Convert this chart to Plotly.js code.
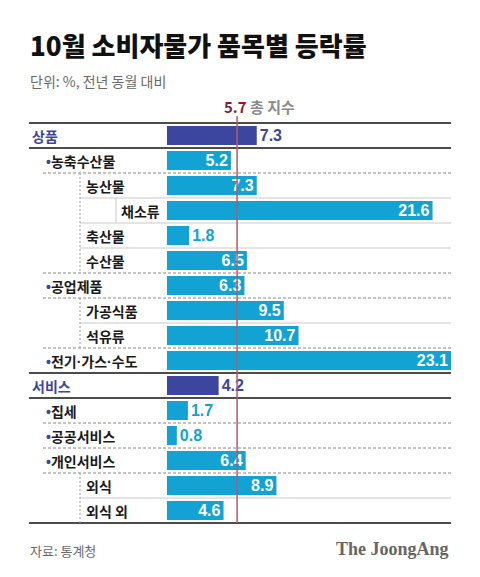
<!DOCTYPE html>
<html>
<head>
<meta charset="utf-8">
<script src="https://cdn.plot.ly/plotly-3.0.1.min.js"></script>
<style>
  html, body { margin: 0; padding: 0; background: #fff; }
  #chart { width: 480px; height: 577px; }
</style>
</head>
<body>
<div id="chart"></div>
<script>
// ---- data ----
const categories = ['상품','농축수산물','농산물','채소류','축산물','수산물','공업제품','가공식품','석유류','전기·가스·수도','서비스','집세','공공서비스','개인서비스','외식','외식 외'];
const values = [7.3, 5.2, 7.3, 21.6, 1.8, 6.5, 6.3, 9.5, 10.7, 23.1, 4.2, 1.7, 0.8, 6.4, 8.9, 4.6];
const levels = [0, 1, 2, 3, 2, 2, 1, 2, 2, 1, 0, 1, 1, 1, 2, 2];
const totalIndex = 5.7;
const titleText = '10월 소비자물가 품목별 등락률';
const unitText = '단위: %, 전년 동월 대비';
const totalLabel = '총 지수';
const sourceText = '자료: 통계청';
const brandText = 'The JoongAng';

// ---- styles ----
const NAVY = '#3c469e';
const CYAN = '#12a3d4';
const RED = '#b55a66';
const KR = '"Noto Sans CJK KR", "Noto Sans", sans-serif';
const NUM = '"Liberation Sans", Arial, sans-serif';

// plot geometry (pixels)
const L = 29, R = 451, T = 123, B = 523, W = 480, H = 577;
const X0PX = 167;                         // pixel of value 0
const XMAX = 23.1;
const scale = (R - X0PX) / XMAX;
const XMIN = -(X0PX - L) / scale;
const px2x = p => (p - L) / (R - L);      // pixel -> paper x
const py2y = p => (B - p) / (B - T);      // pixel -> paper y
const n = categories.length;
const rowH = (B - T) / n;

const idx = categories.map((_, i) => i);
const mainIdx = idx.filter(i => levels[i] === 0);
const subIdx = idx.filter(i => levels[i] !== 0);

const traces = [
  {
    type: 'bar', orientation: 'h',
    y: mainIdx, x: mainIdx.map(i => values[i]),
    text: mainIdx.map(i => values[i].toFixed(1)),
    textposition: 'outside',
    outsidetextfont: { family: NUM, size: 16, color: NAVY, weight: 'bold' },
    marker: { color: NAVY }, width: 0.76, cliponaxis: false, constraintext: 'none',
    hoverinfo: 'skip'
  },
  {
    type: 'bar', orientation: 'h',
    y: subIdx, x: subIdx.map(i => values[i]),
    text: subIdx.map(i => values[i].toFixed(1)),
    textposition: subIdx.map(i => values[i] >= 3 ? 'inside' : 'outside'),
    insidetextanchor: 'end',
    insidetextfont: { family: NUM, size: 16, color: '#ffffff', weight: 'bold' },
    outsidetextfont: { family: NUM, size: 16, color: CYAN, weight: 'bold' },
    marker: { color: CYAN }, width: 0.76, cliponaxis: false, constraintext: 'none',
    hoverinfo: 'skip'
  }
];

// ---- shapes ----
const shapes = [];
for (let k = 0; k <= n; k++) {
  const yp = py2y(T + rowH * k);
  let kind;
  if (k === 0 || k === n) kind = 'black';
  else {
    const a = levels[k - 1], b = levels[k];
    if (a === 0 || b === 0) kind = 'black';
    else if (a >= 2 && b >= 2) kind = 'gray';
    else kind = 'dash';
  }
  if (kind === 'black') {
    shapes.push({ type: 'line', xref: 'paper', yref: 'paper', x0: 0, x1: 1, y0: yp, y1: yp,
      line: { color: '#111', width: 1.4 }, layer: 'below' });
  } else if (kind === 'gray') {
    shapes.push({ type: 'line', xref: 'paper', yref: 'paper', x0: px2x(80), x1: 1, y0: yp, y1: yp,
      line: { color: '#c9c9c9', width: 1 }, layer: 'below' });
  } else {
    shapes.push({ type: 'line', xref: 'paper', yref: 'paper', x0: px2x(43), x1: 1, y0: yp, y1: yp,
      line: { color: '#888', width: 1, dash: '3px,2px' }, layer: 'below' });
  }
}
// vertical dotted line for level>=2 groups, solid for level 3
let i = 0;
while (i < n) {
  if (levels[i] >= 2) {
    let j = i;
    while (j + 1 < n && levels[j + 1] >= 2) j++;
    shapes.push({ type: 'line', xref: 'paper', yref: 'paper', x0: px2x(80), x1: px2x(80),
      y0: py2y(T + rowH * i), y1: py2y(T + rowH * (j + 1)),
      line: { color: '#999', width: 1, dash: '2px,2px' }, layer: 'below' });
    i = j + 1;
  } else i++;
}
idx.filter(k => levels[k] === 3).forEach(k => {
  shapes.push({ type: 'line', xref: 'paper', yref: 'paper', x0: px2x(116), x1: px2x(116),
    y0: py2y(T + rowH * k), y1: py2y(T + rowH * (k + 1)),
    line: { color: '#c9c9c9', width: 1 }, layer: 'below' });
});
// total index reference line
shapes.push({ type: 'line', xref: 'x', yref: 'paper', x0: totalIndex, x1: totalIndex,
  y0: 0, y1: py2y(116), line: { color: RED, width: 1.5 }, layer: 'above' });

// ---- annotations ----
const annotations = [];
const levelX = [30, 44, 84, 119];
const tightDots = s => s.split('·').join('<span style="font-family:Liberation Sans">·</span>');
categories.forEach((c, k) => {
  const lv = levels[k];
  let text = tightDots(c);
  let font = { family: KR, size: 14, color: '#1a1a1a', weight: 'bold' };
  if (lv === 0) font = { family: KR, size: 14, color: NAVY, weight: 'bold' };
  if (lv === 1) text = '<span style="color:' + NAVY + ';font-family:Liberation Sans">•</span>' + text;
  annotations.push({ xref: 'paper', yref: 'y', x: px2x(levelX[lv]), y: k, xanchor: 'left', yanchor: 'middle',
    text: text, showarrow: false, font: font });
});
annotations.push({ xref: 'paper', yref: 'paper', x: px2x(28), y: py2y(44), xanchor: 'left', yanchor: 'middle',
  text: titleText, showarrow: false, font: { family: KR, size: 26, color: '#111', weight: 900 } });
annotations.push({ xref: 'paper', yref: 'paper', x: px2x(28), y: py2y(81), xanchor: 'left', yanchor: 'middle',
  text: unitText, showarrow: false, font: { family: KR, size: 14, color: '#6a6a6a' } });
annotations.push({ xref: 'paper', yref: 'paper', x: px2x(222), y: py2y(106), xanchor: 'left', yanchor: 'middle',
  text: '<span style="color:#8c1b2c">' + totalIndex.toFixed(1) + '</span> ' + totalLabel, showarrow: false,
  font: { family: KR, size: 15, color: '#8a8a8a', weight: 'bold' } });
annotations.push({ xref: 'paper', yref: 'paper', x: px2x(28), y: py2y(550), xanchor: 'left', yanchor: 'middle',
  text: sourceText, showarrow: false, font: { family: KR, size: 13, color: '#6a6a6a' } });
annotations.push({ xref: 'paper', yref: 'paper', x: 1, y: py2y(549), xanchor: 'right', yanchor: 'middle',
  text: brandText, showarrow: false, font: { family: '"Liberation Serif", "DejaVu Serif", serif', size: 18, color: '#666', weight: 'bold' } });

const layout = {
  width: W, height: H,
  margin: { l: L, r: W - R, t: T, b: H - B, pad: 0 },
  paper_bgcolor: '#fff', plot_bgcolor: 'rgba(0,0,0,0)',
  showlegend: false, barmode: 'overlay',
  xaxis: { range: [XMIN, XMAX], visible: false, fixedrange: true },
  yaxis: { range: [n - 0.5, -0.5], visible: false, fixedrange: true },
  shapes: shapes, annotations: annotations,
  hovermode: false
};

Plotly.newPlot('chart', traces, layout, { staticPlot: true, displayModeBar: false });
</script>
</body>
</html>
